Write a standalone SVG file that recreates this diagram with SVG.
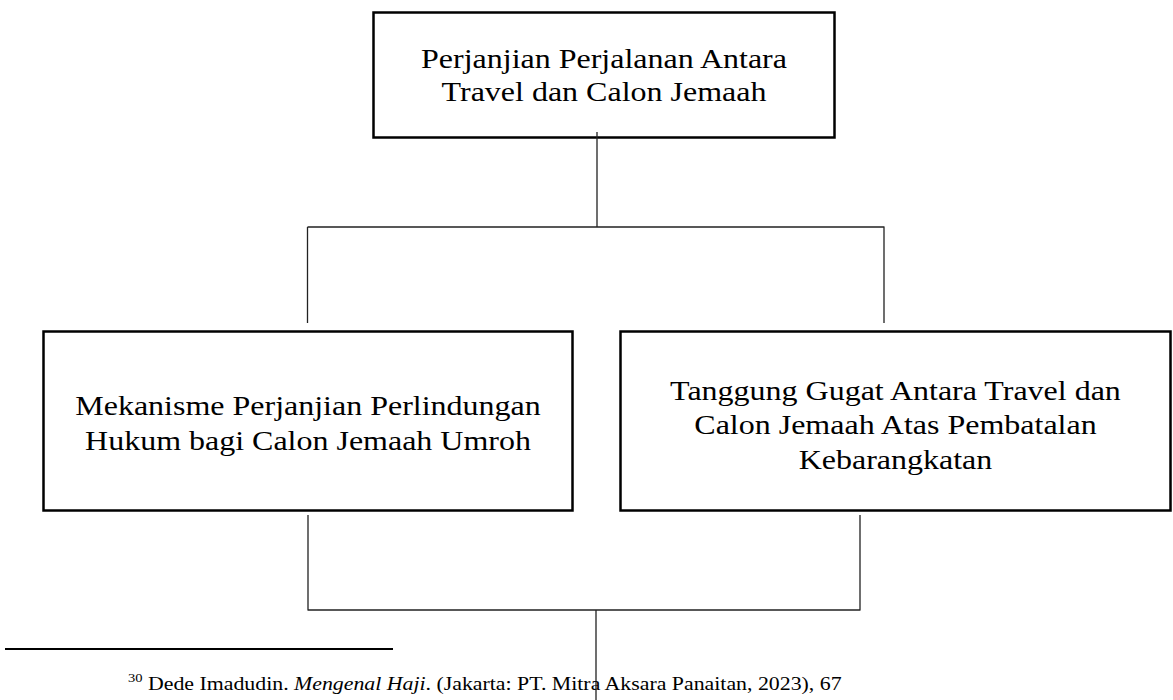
<svg xmlns="http://www.w3.org/2000/svg" width="1173" height="700" viewBox="0 0 1173 700">
<defs>
<style>
.box{fill:#fff;stroke:#000;stroke-width:2.5}
.t{font-family:"Liberation Serif","Times New Roman",serif;font-size:28px;fill:#000;text-anchor:middle}
.fn{font-family:"Liberation Serif","Times New Roman",serif;font-size:19.5px;fill:#000}
.c{fill:none;stroke:#222;stroke-width:1.3}
</style>
</defs>
<rect width="1173" height="700" fill="#fff"/>
<g id="node-top">
<rect class="box" x="373.5" y="12.5" width="461" height="125"/>
<text class="t" transform="translate(604 0) scale(1.143 1)" x="0" y="68">Perjanjian Perjalanan Antara</text>
<text class="t" transform="translate(604 0) scale(1.143 1)" x="0" y="101">Travel dan Calon Jemaah</text>
</g>
<g id="node-left">
<rect class="box" x="43.5" y="331.5" width="529" height="179"/>
<text class="t" transform="translate(308 0) scale(1.143 1)" x="0" y="415">Mekanisme Perjanjian Perlindungan</text>
<text class="t" transform="translate(308 0) scale(1.143 1)" x="0" y="450">Hukum bagi Calon Jemaah Umroh</text>
</g>
<g id="node-right">
<rect class="box" x="620.5" y="331.5" width="550" height="179"/>
<text class="t" transform="translate(895.5 0) scale(1.143 1)" x="0" y="400">Tanggung Gugat Antara Travel dan</text>
<text class="t" transform="translate(895.5 0) scale(1.143 1)" x="0" y="434">Calon Jemaah Atas Pembatalan</text>
<text class="t" transform="translate(895.5 0) scale(1.143 1)" x="0" y="469">Kebarangkatan</text>
</g>
<g id="connectors">
<path class="c" d="M597 132V227M307.5 227H884.5M307.5 227V323M884 227V323"/>
<path class="c" d="M308 515V610M860 515V610M307.5 610H860.5M596 610V700"/>
</g>
<g id="footnote">
<line x1="5" y1="649" x2="393" y2="649" stroke="#000" stroke-width="2"/>
<text class="fn" transform="translate(128 0) scale(1.12 1)" x="0" y="690"><tspan font-size="13" dy="-8">30</tspan><tspan dy="8"> Dede Imadudin. </tspan><tspan font-style="italic">Mengenal Haji</tspan>. (Jakarta: PT. Mitra Aksara Panaitan, 2023), 67</text>
</g>
</svg>
